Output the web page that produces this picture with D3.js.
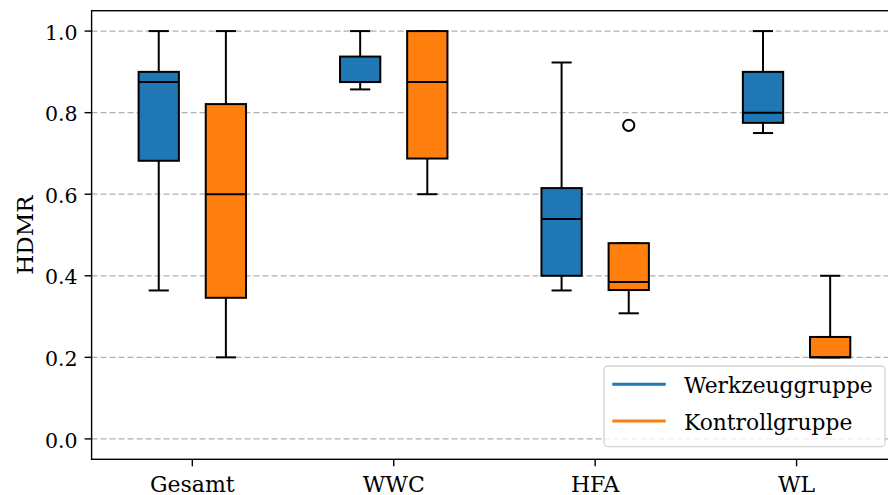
<!DOCTYPE html>
<html>
<head>
<meta charset="utf-8">
<script src="https://cdn.jsdelivr.net/npm/d3@7"></script>
<style>
  html, body { margin: 0; padding: 0; background: #fff; overflow: hidden; }
  svg { display: block; font-family: "DejaVu Serif", serif; }
</style>
</head>
<body>
<svg id="chart" width="888" height="495"></svg>
<script>
// Categories along the x axis
const categories = ["Gesamt", "WWC", "HFA", "WL"];

// Box statistics per category: [whisker low, Q1, median, Q3, whisker high]
const werkzeuggruppe = [
  [0.364, 0.682, 0.875, 0.900, 1.000],
  [0.857, 0.875, 0.875, 0.9375, 1.000],
  [0.364, 0.400, 0.539, 0.615, 0.923],
  [0.750, 0.775, 0.800, 0.900, 1.000]
];
const kontrollgruppe = [
  [0.200, 0.346, 0.600, 0.821, 1.000],
  [0.600, 0.6875, 0.875, 1.000, 1.000],
  [0.308, 0.365, 0.385, 0.480, 0.480],
  [0.200, 0.200, 0.200, 0.250, 0.400]
];
// Outliers: [category index, value]
const kontrollOutliers = [[2, 0.769]];
const werkzeugOutliers = [];

const yTicks = [0.0, 0.2, 0.4, 0.6, 0.8, 1.0];
const seriesNames = ["Werkzeuggruppe", "Kontrollgruppe"];
const seriesColors = ["#1f77b4", "#ff7f0e"];

const svg = d3.select("#chart");
const plot = { left: 91.6, right: 897.3, top: 10.7, bottom: 459.3 };

const x = d3.scaleLinear().domain([0.5, 4.5]).range([plot.left, plot.right]);
const y = d3.scaleLinear().domain([-0.05, 1.05]).range([plot.bottom, plot.top]);

const offset = 1 / 6;    // group offset from category center
const boxW = 0.2;        // box width in category units
const capW = 0.1;        // whisker cap width

// Grid lines
svg.append("g").selectAll("line").data(yTicks).join("line")
  .attr("x1", plot.left).attr("x2", plot.right)
  .attr("y1", d => y(d)).attr("y2", d => y(d))
  .attr("stroke", "#b0b0b0").attr("stroke-width", 1.3)
  .attr("stroke-dasharray", "6,3");

function drawBoxes(stats, outliers, shift, color) {
  const g = svg.append("g");
  stats.forEach((s, i) => {
    const cx = x(i + 1 + shift);
    const half = (x(boxW) - x(0)) / 2;
    const capHalf = (x(capW) - x(0)) / 2;
    const [lo, q1, med, q3, hi] = s;
    // whiskers
    g.append("line").attr("x1", cx).attr("x2", cx).attr("y1", y(q3)).attr("y2", y(hi))
      .attr("stroke", "#000").attr("stroke-width", 2);
    g.append("line").attr("x1", cx).attr("x2", cx).attr("y1", y(q1)).attr("y2", y(lo))
      .attr("stroke", "#000").attr("stroke-width", 2);
    // caps
    [lo, hi].forEach(v => {
      g.append("line").attr("x1", cx - capHalf).attr("x2", cx + capHalf)
        .attr("y1", y(v)).attr("y2", y(v))
        .attr("stroke", "#000").attr("stroke-width", 2);
    });
    // box
    g.append("rect").attr("x", cx - half).attr("y", y(q3))
      .attr("width", 2 * half).attr("height", y(q1) - y(q3))
      .attr("fill", color).attr("stroke", "#000").attr("stroke-width", 2);
    // median
    g.append("line").attr("x1", cx - half).attr("x2", cx + half)
      .attr("y1", y(med)).attr("y2", y(med))
      .attr("stroke", "#000").attr("stroke-width", 2);
  });
  outliers.forEach(([i, v]) => {
    g.append("circle").attr("cx", x(i + 1 + shift)).attr("cy", y(v)).attr("r", 5.6)
      .attr("fill", "none").attr("stroke", "#000").attr("stroke-width", 2);
  });
}
drawBoxes(werkzeuggruppe, werkzeugOutliers, -offset, seriesColors[0]);
drawBoxes(kontrollgruppe, kontrollOutliers, offset, seriesColors[1]);

// Spines (right spine falls outside the canvas)
const spine = svg.append("g").attr("stroke", "#000").attr("stroke-width", 1.4).attr("fill", "none");
spine.append("rect").attr("x", plot.left).attr("y", plot.top)
  .attr("width", plot.right - plot.left).attr("height", plot.bottom - plot.top);

// Y axis ticks and labels
const yAxis = svg.append("g");
yTicks.forEach(v => {
  yAxis.append("line").attr("x1", plot.left - 7).attr("x2", plot.left)
    .attr("y1", y(v)).attr("y2", y(v)).attr("stroke", "#000").attr("stroke-width", 1.4);
  yAxis.append("text").attr("x", 77.5).attr("y", y(v) + 8.6)
    .attr("text-anchor", "end").attr("font-size", 20.5).attr("fill", "#000")
    .text(v.toFixed(1));
});

// X axis ticks and labels
const xAxis = svg.append("g");
categories.forEach((c, i) => {
  const cx = x(i + 1);
  xAxis.append("line").attr("x1", cx).attr("x2", cx)
    .attr("y1", plot.bottom).attr("y2", plot.bottom + 7).attr("stroke", "#000").attr("stroke-width", 1.4);
  xAxis.append("text").attr("x", cx).attr("y", 491.5)
    .attr("text-anchor", "middle").attr("font-size", 22).attr("fill", "#000")
    .text(c);
});

// Y axis title
svg.append("text")
  .attr("transform", `translate(33, ${(plot.top + plot.bottom) / 2}) rotate(-90)`)
  .attr("text-anchor", "middle").attr("font-size", 23).attr("fill", "#000")
  .text("HDMR");

// Legend
const legend = svg.append("g");
legend.append("rect").attr("x", 604).attr("y", 366).attr("width", 281).attr("height", 80.7)
  .attr("rx", 4).attr("fill", "#fff").attr("fill-opacity", 0.8)
  .attr("stroke", "#d5d5d5").attr("stroke-width", 1.3);
seriesNames.forEach((name, i) => {
  const ly = 384.3 + i * 36.7;
  legend.append("line").attr("x1", 612.3).attr("x2", 665.7).attr("y1", ly).attr("y2", ly)
    .attr("stroke", seriesColors[i]).attr("stroke-width", 3);
  legend.append("text").attr("x", 684).attr("y", ly + 9)
    .attr("font-size", 21.8).attr("fill", "#000").text(name);
});
</script>
</body>
</html>
